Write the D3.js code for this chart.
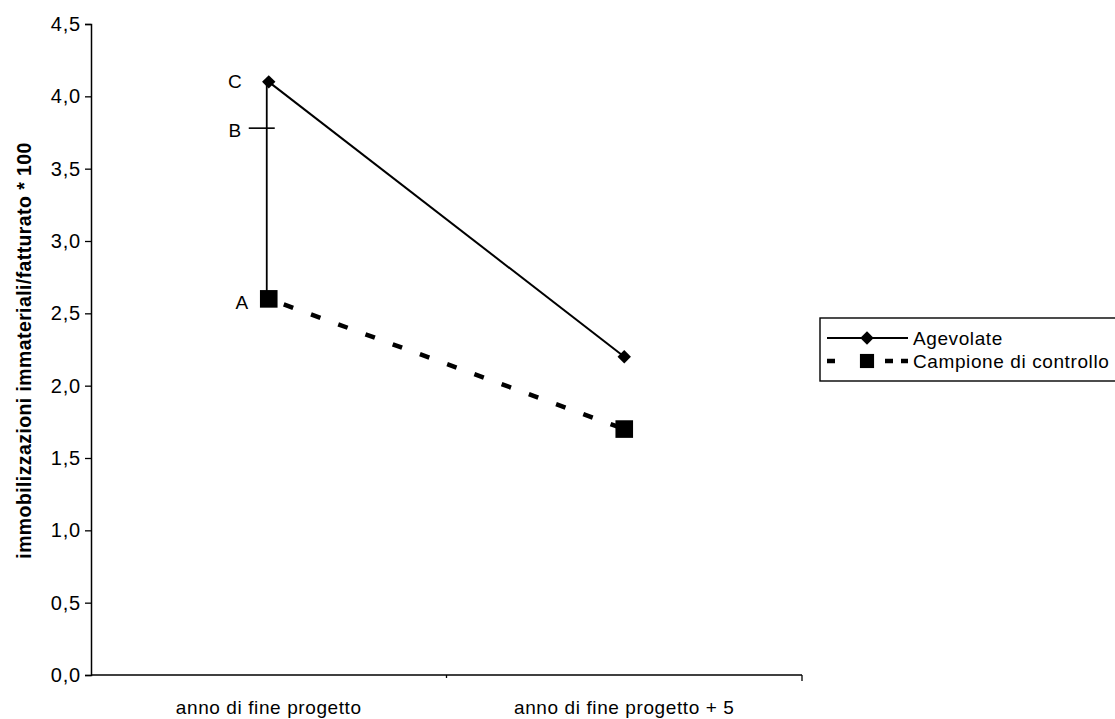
<!DOCTYPE html>
<html>
<head>
<meta charset="utf-8">
<script src="https://cdn.jsdelivr.net/npm/d3@7"></script>
<style>
  html, body { margin: 0; padding: 0; background: #fff; }
  svg { display: block; font-family: "Liberation Sans", Arial, sans-serif; }
</style>
</head>
<body>
<svg id="chart" width="1115" height="719"></svg>
<script>
// Categories on the x axis
const categories = ["anno di fine progetto", "anno di fine progetto + 5"];
// Series values
const agevolate = [4.1, 2.2];
const campione = [2.6, 1.7];
const seriesNames = ["Agevolate", "Campione di controllo"];
// Reference mark on the first category (between A = control and C = supported firms)
const markB = 3.78;
// Y axis ticks
const yTicks = [0, 0.5, 1, 1.5, 2, 2.5, 3, 3.5, 4, 4.5];
const yTitle = "immobilizzazioni immateriali/fatturato * 100";

const svg = d3.select("#chart");
const plot = { left: 91, right: 802, top: 24, bottom: 675 };
const fmt = v => d3.format(".1f")(v).replace(".", ",");

const x = d3.scaleBand().domain(categories).range([plot.left, plot.right]);
const cx = c => x(c) + x.bandwidth() / 2;
const y = d3.scaleLinear().domain([0, 4.5]).range([plot.bottom, plot.top]);

// Y axis
const yAxis = svg.append("g")
  .attr("transform", `translate(${plot.left},0)`)
  .call(d3.axisLeft(y).tickValues(yTicks).tickFormat(fmt).tickSize(6).tickPadding(4));
yAxis.select(".domain").attr("stroke", "#000").attr("stroke-width", 1.5);
yAxis.selectAll(".tick line").attr("stroke", "#000").attr("stroke-width", 1.3);
yAxis.selectAll(".tick text")
  .attr("font-size", 20).attr("fill", "#000").attr("font-family", "Liberation Sans, Arial, sans-serif")
  .attr("letter-spacing", 0.8);

// X axis line with ticks at the band boundaries
svg.append("line")
  .attr("x1", plot.left).attr("x2", plot.right)
  .attr("y1", plot.bottom).attr("y2", plot.bottom)
  .attr("stroke", "#000").attr("stroke-width", 1.5);
const bounds = categories.map(c => x(c)).concat([x(categories[categories.length - 1]) + x.bandwidth()]);
svg.selectAll("line.xtick").data(bounds.slice(1)).join("line")
  .attr("class", "xtick")
  .attr("x1", d => d).attr("x2", d => d)
  .attr("y1", plot.bottom).attr("y2", (d, i) => plot.bottom + (i === 0 ? 3 : 6))
  .attr("stroke", "#000").attr("stroke-width", 1.3);
svg.selectAll("text.xlab").data(categories).join("text")
  .attr("class", "xlab")
  .attr("x", d => cx(d)).attr("y", 714)
  .attr("text-anchor", "middle")
  .attr("font-size", 19).attr("letter-spacing", 0.6)
  .text(d => d);

// Y title
svg.append("text")
  .attr("transform", `translate(31,${(plot.top + plot.bottom) / 2 + 1}) rotate(-90)`)
  .attr("text-anchor", "middle")
  .attr("font-size", 19.5).attr("font-weight", "bold").attr("letter-spacing", 0.4)
  .text(yTitle);

// Vertical connector from A to C and the B mark
const c0 = cx(categories[0]);
svg.append("line")
  .attr("x1", c0 - 2).attr("x2", c0 - 2)
  .attr("y1", y(agevolate[0])).attr("y2", y(campione[0]))
  .attr("stroke", "#000").attr("stroke-width", 1.8);
svg.append("line")
  .attr("x1", c0 - 20).attr("x2", c0 + 6)
  .attr("y1", y(markB)).attr("y2", y(markB))
  .attr("stroke", "#000").attr("stroke-width", 1.6);

// Agevolate series: solid line with diamonds
const line = d3.line().x((d, i) => cx(categories[i])).y(d => y(d));
svg.append("path").datum(agevolate)
  .attr("d", line).attr("fill", "none")
  .attr("stroke", "#000").attr("stroke-width", 2);
const diamond = d3.symbol().type(d3.symbolSquare).size(90);
svg.selectAll("path.dia").data(agevolate).join("path")
  .attr("class", "dia")
  .attr("d", diamond)
  .attr("transform", (d, i) => `translate(${cx(categories[i])},${y(d)}) rotate(45)`)
  .attr("fill", "#000");

// Campione di controllo: thick dashed line with squares
svg.append("path").datum(campione)
  .attr("d", line).attr("fill", "none")
  .attr("stroke", "#000").attr("stroke-width", 4.5)
  .attr("stroke-dasharray", "10,19").attr("stroke-dashoffset", -16);
const square = d3.symbol().type(d3.symbolSquare).size(310);
svg.selectAll("path.sq").data(campione).join("path")
  .attr("class", "sq")
  .attr("d", square)
  .attr("transform", (d, i) => `translate(${cx(categories[i])},${y(d)})`)
  .attr("fill", "#000");

// Point labels A, B, C
const pointLabels = [
  { t: "C", v: agevolate[0], dx: -34, dy: 6 },
  { t: "B", v: markB, dx: -34, dy: 9 },
  { t: "A", v: campione[0], dx: -27, dy: 10 }
];
svg.selectAll("text.pl").data(pointLabels).join("text")
  .attr("class", "pl")
  .attr("x", d => c0 + d.dx)
  .attr("y", d => y(d.v) + d.dy)
  .attr("text-anchor", "middle")
  .attr("font-size", 19)
  .text(d => d.t);

// Legend
const lg = svg.append("g").attr("transform", "translate(820,318)");
lg.append("rect").attr("x", 0).attr("y", 0).attr("width", 320).attr("height", 63)
  .attr("fill", "#fff").attr("stroke", "#000").attr("stroke-width", 1.4);
const rowY = [20, 43];
lg.append("line").attr("x1", 7).attr("x2", 88).attr("y1", rowY[0]).attr("y2", rowY[0])
  .attr("stroke", "#000").attr("stroke-width", 2);
lg.append("path").attr("d", diamond).attr("transform", `translate(47,${rowY[0]}) rotate(45)`).attr("fill", "#000");
lg.append("line").attr("x1", 7).attr("x2", 88).attr("y1", rowY[1]).attr("y2", rowY[1])
  .attr("stroke", "#000").attr("stroke-width", 4.5).attr("stroke-dasharray", "8,25,0,25,8");
lg.append("path").attr("d", d3.symbol().type(d3.symbolSquare).size(200))
  .attr("transform", `translate(47,${rowY[1]})`).attr("fill", "#000");
lg.selectAll("text.lt").data(seriesNames).join("text")
  .attr("class", "lt")
  .attr("x", 93).attr("y", (d, i) => rowY[i] + 7)
  .attr("font-size", 19).attr("letter-spacing", 0.6)
  .text(d => d);
</script>
</body>
</html>
